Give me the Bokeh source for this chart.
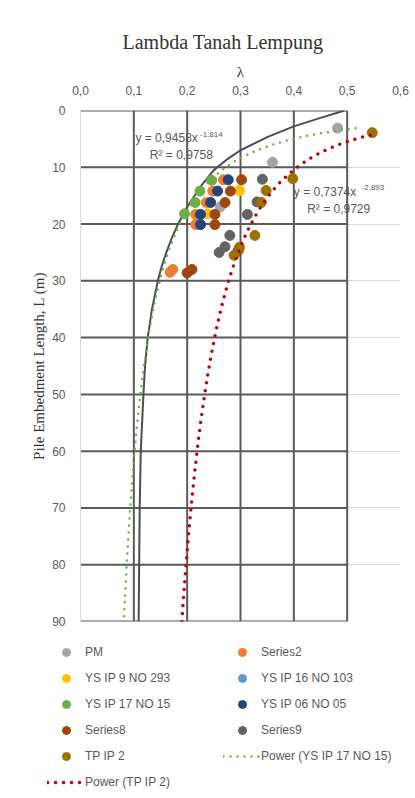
from bokeh.plotting import figure
from bokeh.models import (Range1d, FixedTicker, CustomJSTickFormatter, Legend,
                          LegendItem)
from bokeh.core.properties import value
from bokeh.embed import file_html
from bokeh.resources import INLINE
import numpy as np

# ---------------- data ----------------
title_text = "Lambda Tanah Lempung"
x_label = "λ"
y_label = "Pile Embedment Length, L (m)"
x_ticks = [0.0, 0.1, 0.2, 0.3, 0.4, 0.5, 0.6]
y_ticks = [0, 10, 20, 30, 40, 50, 60, 70, 80, 90]
chart_grid_max = 0.5  # dark reference grid reaches lambda 0.5

pm_lam = [0.482, 0.360, 0.262]
pm_L = [3.1, 9.1, 17.0]

s2_lam = [0.268, 0.248, 0.236, 0.216, 0.216, 0.168, 0.173]
s2_L = [12.2, 14.2, 16.2, 18.3, 20.1, 28.5, 28.0]

ys9_lam = [0.298, 0.238]
ys9_L = [14.1, 18.2]

ys16_lam = []
ys16_L = []

ys17_lam = [0.246, 0.224, 0.215, 0.195]
ys17_L = [12.3, 14.2, 16.2, 18.2]

ys06_lam = [0.277, 0.257, 0.244, 0.225, 0.225]
ys06_L = [12.2, 14.2, 16.2, 18.3, 20.1]

s8_lam = [0.302, 0.281, 0.271, 0.252, 0.252, 0.200, 0.209, 0.296]
s8_L = [12.2, 14.2, 16.2, 18.3, 20.1, 28.6, 28.0, 24.6]

s9_lam = [0.341, 0.331, 0.313, 0.280, 0.271, 0.260]
s9_L = [12.1, 16.1, 18.3, 22.0, 24.0, 25.0]

tp_lam = [0.547, 0.398, 0.348, 0.339, 0.327, 0.298, 0.288]
tp_L = [3.9, 12.0, 14.1, 16.2, 22.0, 24.1, 25.5]

# reference lambda curve (solid dark line)
ref_lam = [0.495, 0.45, 0.40, 0.35, 0.30, 0.275, 0.25, 0.225, 0.20, 0.183,
           0.171, 0.161, 0.152, 0.145, 0.134, 0.126, 0.121, 0.118, 0.113,
           0.111, 0.110, 0.109]
ref_L = [0.0, 1.3, 2.8, 4.7, 7.0, 8.6, 10.5, 13.4, 17.0, 20.0,
         22.5, 25.0, 27.5, 30.0, 35.0, 40.0, 45.0, 50.0, 60.0,
         70.0, 80.0, 90.0]

# power trendlines L = a * lambda^b (as printed on the chart)
green_coef = [0.9458, -1.814]
green_range = [0.081, 0.526]
red_coef = [0.7374, -2.893]
red_range = [0.19, 0.55]

eq1_text = "y = 0,9458x"
eq1_sup = "-1,814"
eq1_r2 = "R² = 0,9758"
eq2_text = "y = 0,7374x"
eq2_sup = "-2,893"
eq2_r2 = "R² = 0,9729"

legend_labels = ["PM", "Series2", "YS IP 9 NO 293", "YS IP 16 NO 103",
                 "YS IP 17 NO 15", "YS IP 06 NO 05", "Series8", "Series9",
                 "TP IP 2", "Power (YS IP 17 NO 15)", "Power (TP IP 2)"]

# ---------------- colours ----------------
C_PM = "#A5A5A5"
C_S2 = "#ED7D31"
C_YS9 = "#FFC000"
C_YS16 = "#5B9BD5"
C_YS17 = "#70AD47"
C_YS06 = "#264478"
C_S8 = "#9E480E"
C_S9 = "#636363"
C_TP = "#997300"
C_RED = "#C00000"
TXT = "#595959"
DARK = "#5a5a5a"

p = figure(width=415, height=640,
           x_range=Range1d(0, 0.6), y_range=Range1d(90, 0),
           x_axis_location="above",
           output_backend="svg", toolbar_location=None,
           min_border_left=80, min_border_right=15,
           min_border_top=110, min_border_bottom=19)

p.title.text = title_text
p.title.align = "left"
p.title.offset = 42
p.title.text_font = "Liberation Serif"
p.title.text_font_size = "20px"
p.title.text_font_style = "normal"
p.title.text_color = "#333333"
p.title.standoff = 16

p.outline_line_color = None
p.background_fill_color = "white"
p.border_fill_color = "white"

# light gridlines
p.xgrid.ticker = FixedTicker(ticks=x_ticks)
p.ygrid.ticker = FixedTicker(ticks=y_ticks)
p.xgrid.grid_line_color = "#D9D9D9"
p.ygrid.grid_line_color = "#D9D9D9"

# axes
xa = p.xaxis[0]
xa.ticker = FixedTicker(ticks=x_ticks)
xa.formatter = CustomJSTickFormatter(code="return tick.toFixed(1).replace('.', ',')")
xa.axis_label = x_label
xa.axis_label_text_font = "Liberation Serif"
xa.axis_label_text_font_size = "15px"
xa.axis_label_text_font_style = "normal"
xa.axis_label_text_color = "#333333"
xa.axis_label_standoff = 3
xa.major_label_text_font = "Liberation Sans"
xa.major_label_text_font_size = "12px"
xa.major_label_text_color = TXT
xa.major_label_standoff = 10
xa.major_tick_line_color = None
xa.minor_tick_line_color = None
xa.axis_line_color = None

ya = p.yaxis[0]
ya.ticker = FixedTicker(ticks=y_ticks)
ya.axis_label = y_label
ya.axis_label_text_font = "Liberation Serif"
ya.axis_label_text_font_size = "15px"
ya.axis_label_text_font_style = "normal"
ya.axis_label_text_color = "#333333"
ya.axis_label_standoff = 2
ya.major_label_text_font = "Liberation Sans"
ya.major_label_text_font_size = "12px"
ya.major_label_text_color = TXT
ya.major_label_standoff = 9
ya.major_tick_line_color = None
ya.minor_tick_line_color = None
ya.axis_line_color = "#D9D9D9"

# dark reference grid
vx = [t for t in x_ticks if 0 < t <= chart_grid_max + 1e-9]
p.segment(x0=vx, y0=[y_ticks[0]] * len(vx), x1=vx, y1=[y_ticks[-1]] * len(vx),
          line_color=DARK, line_width=2)
p.segment(x0=[0] * len(y_ticks), y0=y_ticks, x1=[chart_grid_max] * len(y_ticks),
          y1=y_ticks, line_color=DARK, line_width=2)

# reference curve
p.line(ref_lam, ref_L, line_color="#4d4d4d", line_width=2, line_join="round")

# equation texts (under the dotted lines)
TF = value("Liberation Sans")
p.text(x=[0.103], y=[4.9], text=[eq1_text], text_font=TF, text_font_size="12px",
       text_color=TXT, text_baseline="middle")
p.text(x=[0.224], y=[4.2], text=[eq1_sup], text_font=TF, text_font_size="8px",
       text_color=TXT, text_baseline="middle")
p.text(x=[0.130], y=[7.9], text=[eq1_r2], text_font=TF, text_font_size="12px",
       text_color=TXT, text_baseline="middle")
p.text(x=[0.400], y=[14.3], text=[eq2_text], text_font=TF, text_font_size="12px",
       text_color=TXT, text_baseline="middle")
p.text(x=[0.527], y=[13.6], text=[eq2_sup], text_font=TF, text_font_size="8px",
       text_color=TXT, text_baseline="middle")
p.text(x=[0.425], y=[17.3], text=[eq2_r2], text_font=TF, text_font_size="12px",
       text_color=TXT, text_baseline="middle")

series = [(pm_lam, pm_L, C_PM), (s2_lam, s2_L, C_S2), (ys9_lam, ys9_L, C_YS9),
          (ys16_lam, ys16_L, C_YS16), (ys17_lam, ys17_L, C_YS17),
          (ys06_lam, ys06_L, C_YS06), (s8_lam, s8_L, C_S8),
          (s9_lam, s9_L, C_S9), (tp_lam, tp_L, C_TP)]
for lam, L, col in series:
    p.scatter(lam, L, size=10, fill_color=col, line_color=col)

g_lam = np.linspace(green_range[0], green_range[1], 300)
g_L = green_coef[0] * g_lam ** green_coef[1]
r_lam = np.linspace(red_range[0], red_range[1], 300)
r_L = red_coef[0] * r_lam ** red_coef[1]

GREEN_STYLE = dict(line_color=C_YS17, line_width=2.5, line_dash="0 7", line_cap="round")
RED_STYLE = dict(line_color=C_RED, line_width=3.5, line_dash="0 8", line_cap="round")
p.line(g_lam, g_L, **GREEN_STYLE)
p.line(r_lam, r_L, **RED_STYLE)

# ---------------- legend (separate root below the chart) ----------------
lp = figure(width=415, height=158, x_range=Range1d(0, 1), y_range=Range1d(0, 1),
            x_axis_type=None, y_axis_type=None, output_backend="svg",
            toolbar_location=None, min_border=0)
lp.outline_line_color = None
lp.grid.visible = False
lp.background_fill_color = "white"
lp.border_fill_color = "white"

NAN = [float("nan")]
renderers = []
for lam, L, col in series:
    renderers.append(lp.scatter(NAN, NAN, size=10, fill_color=col, line_color=col))
renderers.append(lp.line(NAN, NAN, **GREEN_STYLE))
renderers.append(lp.line(NAN, NAN, **RED_STYLE))

items = [LegendItem(label=lab, renderers=[r]) for lab, r in zip(legend_labels, renderers)]
legend = Legend(items=items, location=(47, 6), orientation="horizontal",
                ncols=2, glyph_width=38, glyph_height=20, label_height=20,
                label_width=132, label_standoff=0, spacing=6, padding=0,
                margin=0, border_line_alpha=0, background_fill_alpha=0,
                label_text_font="Liberation Sans", label_text_font_size="12px",
                label_text_color=TXT)
lp.add_layout(legend, "center")

open("out.html", "w").write(file_html([p, lp], INLINE))
